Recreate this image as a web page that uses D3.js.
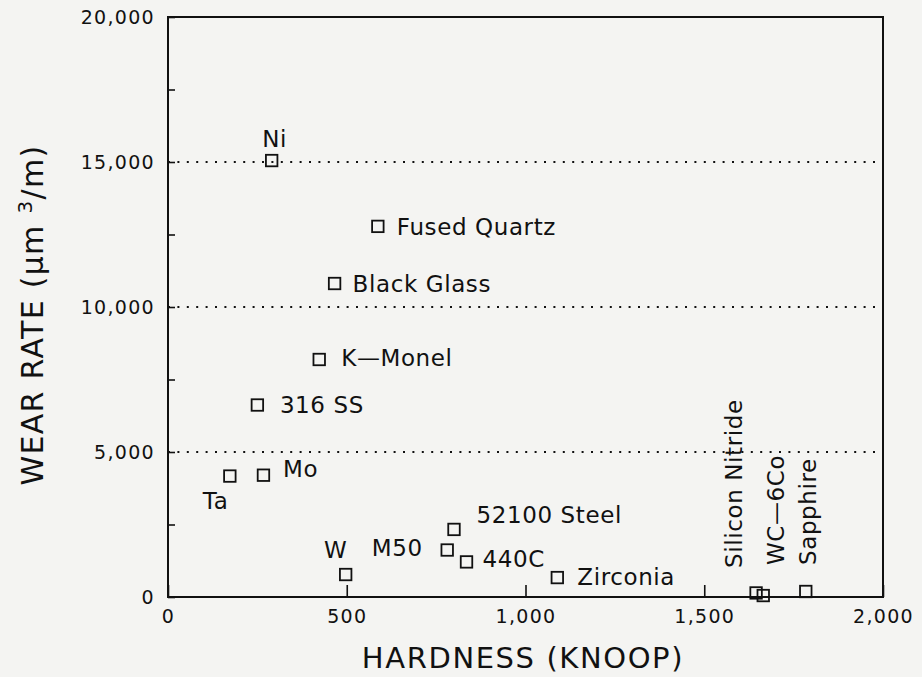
<!DOCTYPE html>
<html>
<head>
<meta charset="utf-8">
<script src="https://cdn.jsdelivr.net/npm/d3@7"></script>
<style>
  html, body { margin: 0; padding: 0; background: #f4f4f2; }
  svg { display: block; font-family: "DejaVu Sans", sans-serif; }
  .tick-lbl text { font-family: "DejaVu Sans", sans-serif; font-size: 19px; letter-spacing: 1.3px; fill: #111; }
  .axis path { display: none; }
  .axis line { stroke: #111; stroke-width: 1.6; }
  .pt-label { font-size: 23px; letter-spacing: 0.6px; fill: #111; }
</style>
</head>
<body>
<div id="chart"></div>
<script>
// Data
var materials = ["Ni", "Fused Quartz", "Black Glass", "K\u2014Monel", "316 SS", "Ta", "Mo", "W", "M50",
                 "52100 Steel", "440C", "Zirconia", "Silicon Nitride", "WC\u20146Co", "Sapphire"];
var hardness  = [290, 587, 466, 423, 250, 173, 267, 497, 781, 800, 835, 1089, 1645, 1665, 1784];
var wearRate  = [15050, 12780, 10810, 8190, 6620, 4170, 4200, 775, 1620, 2330, 1210, 670, 140, 50, 190];

var xTicks = [0, 500, 1000, 1500, 2000];
var yTicks = [0, 5000, 10000, 15000, 20000];
var yMinorTicks = [2500, 7500, 12500, 17500];
var gridValues = [5000, 10000, 15000];

// where each label sits relative to its marker (layout only)
var labelLayout = {
  "Ni":              { dx: 3,     dy: -14,   anchor: "middle" },
  "Fused Quartz":    { dx: 19,    dy: 8.5,   anchor: "start" },
  "Black Glass":     { dx: 18,    dy: 8,     anchor: "start" },
  "K\u2014Monel":    { dx: 22,    dy: 7,     anchor: "start" },
  "316 SS":          { dx: 22.5,  dy: 8,     anchor: "start" },
  "Ta":              { dx: -27,   dy: 33,    anchor: "start" },
  "Mo":              { dx: 19.5,  dy: 2,     anchor: "start" },
  "W":               { dx: -10,   dy: -16.5, anchor: "middle" },
  "M50":             { dx: -24.5, dy: 6,     anchor: "end" },
  "52100 Steel":     { dx: 22.5,  dy: -6.5,  anchor: "start" },
  "440C":            { dx: 16,    dy: 5,     anchor: "start" },
  "Zirconia":        { dx: 20,    dy: 7.5,   anchor: "start" },
  "Silicon Nitride": { dx: -14,   dy: -25,   anchor: "start", rotate: true },
  "WC\u20146Co":     { dx: 21,    dy: -30.5, anchor: "start", rotate: true },
  "Sapphire":        { dx: 10.5,  dy: -26.5, anchor: "start", rotate: true }
};

var width = 922, height = 677;
var plotLeft = 168, plotRight = 883, plotTop = 17, plotBottom = 597;

var svg = d3.select("#chart").append("svg")
  .attr("width", width)
  .attr("height", height);

var x = d3.scaleLinear().domain([0, 2000]).range([plotLeft, plotRight]);
var y = d3.scaleLinear().domain([0, 20000]).range([plotBottom, plotTop]);

// dotted reference lines
svg.selectAll(".grid")
  .data(gridValues)
  .enter().append("line")
  .attr("class", "grid")
  .attr("x1", plotLeft).attr("x2", plotRight)
  .attr("y1", function(d) { return y(d); })
  .attr("y2", function(d) { return y(d); })
  .style("stroke", "#111")
  .style("stroke-width", 2)
  .style("stroke-dasharray", "2,7.4");

// Y axis (ticks point inward)
svg.append("g")
  .attr("class", "axis tick-lbl")
  .attr("transform", "translate(" + plotLeft + ",0)")
  .call(d3.axisLeft(y).tickValues(yTicks).tickSize(-7).tickPadding(13).tickFormat(d3.format(",")));
svg.append("g")
  .attr("class", "axis")
  .attr("transform", "translate(" + plotLeft + ",0)")
  .call(d3.axisLeft(y).tickValues(yMinorTicks).tickSize(-7).tickFormat(""));

// X axis
svg.append("g")
  .attr("class", "axis tick-lbl")
  .attr("transform", "translate(0," + plotBottom + ")")
  .call(d3.axisBottom(x).tickValues(xTicks).tickSize(-12).tickPadding(12.5).tickFormat(d3.format(",")));

// frame
svg.append("rect")
  .attr("x", plotLeft).attr("y", plotTop)
  .attr("width", plotRight - plotLeft).attr("height", plotBottom - plotTop)
  .style("fill", "none")
  .style("stroke", "#111")
  .style("stroke-width", 2);

// axis titles
svg.append("text")
  .attr("x", 523)
  .attr("y", 668)
  .attr("text-anchor", "middle")
  .style("font-size", "29px")
  .style("letter-spacing", "1.6px")
  .style("fill", "#111")
  .text("HARDNESS (KNOOP)");

var yTitle = svg.append("text")
  .attr("transform", "translate(43,315) rotate(-90)")
  .attr("text-anchor", "middle")
  .style("font-size", "30px")
  .style("letter-spacing", "1.3px")
  .style("fill", "#111");
yTitle.append("tspan").text("WEAR RATE (\u00b5m ");
yTitle.append("tspan").attr("dy", -11).style("font-size", "20px").text("3");
yTitle.append("tspan").attr("dy", 11).text("/m)");

// markers
var pts = materials.map(function(m, i) {
  return { name: m, hardness: hardness[i], wear: wearRate[i] };
});
var s = 11.5;

svg.selectAll(".pt")
  .data(pts)
  .enter().append("rect")
  .attr("class", "pt")
  .attr("x", function(d) { return x(d.hardness) - s / 2; })
  .attr("y", function(d) { return y(d.wear) - s / 2; })
  .attr("width", s)
  .attr("height", s)
  .style("fill", "none")
  .style("stroke", "#111")
  .style("stroke-width", 1.8);

// labels
svg.selectAll(".pt-label")
  .data(pts)
  .enter().append("text")
  .attr("class", "pt-label")
  .attr("text-anchor", function(d) { return labelLayout[d.name].anchor; })
  .attr("transform", function(d) {
    var L = labelLayout[d.name];
    var tx = x(d.hardness) + L.dx, ty = y(d.wear) + L.dy;
    return "translate(" + tx + "," + ty + ")" + (L.rotate ? " rotate(-90)" : "");
  })
  .text(function(d) { return d.name; });
</script>
</body>
</html>
